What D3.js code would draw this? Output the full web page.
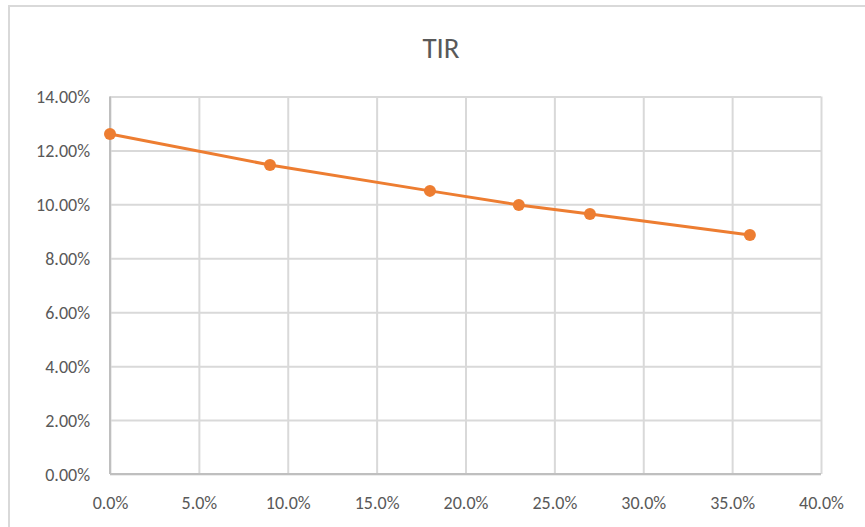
<!DOCTYPE html>
<html><head><meta charset="utf-8">
<script src="https://cdn.jsdelivr.net/npm/d3@7"></script>
<style>body{margin:0;background:#fff;} text{font-family:Carlito, Lato, Calibri, "Liberation Sans", sans-serif;}</style>
</head><body>
<svg id="c" width="865" height="527"></svg>
<script>
const xValues = [0.0, 0.09, 0.18, 0.23, 0.27, 0.36];
const tirValues = [0.1261, 0.1146, 0.1050, 0.0998, 0.0964, 0.0886];
const xTicks = [0, 0.05, 0.10, 0.15, 0.20, 0.25, 0.30, 0.35, 0.40];
const yTicks = [0, 0.02, 0.04, 0.06, 0.08, 0.10, 0.12, 0.14];
const title = "TIR";

const svg = d3.select("#c");
svg.append("rect").attr("x",9).attr("y",6).attr("width",880).attr("height",540)
  .attr("fill","#fff").attr("stroke","#d9d9d9").attr("stroke-width",2);

const x = d3.scaleLinear().domain([0,0.40]).range([110,821]);
const y = d3.scaleLinear().domain([0,0.14]).range([474,96.5]);

svg.append("text").attr("x",441).attr("y",58).attr("text-anchor","middle")
  .attr("font-size",29).attr("fill","#595959").text(title);

const gx = svg.append("g").attr("transform","translate(0,474)")
  .call(d3.axisBottom(x).tickValues(xTicks).tickSize(-(474-96.5)).tickPadding(22).tickFormat(d3.format(".1%")));
const gy = svg.append("g").attr("transform","translate(110,0)")
  .call(d3.axisLeft(y).tickValues(yTicks).tickSize(-(821-110)).tickPadding(20).tickFormat(d3.format(".2%")));
[gx,gy].forEach(g=>{
  g.select(".domain").remove();
  g.selectAll(".tick line").attr("stroke","#d9d9d9").attr("stroke-width",2);
  g.selectAll(".tick text").attr("fill","#595959").attr("font-size",18);
});
gy.selectAll(".tick text").attr("dy","0.35em");
// axis baselines
svg.append("line").attr("x1",110).attr("x2",821).attr("y1",474).attr("y2",474).attr("stroke","#bfbfbf").attr("stroke-width",2);
svg.append("line").attr("x1",110).attr("x2",110).attr("y1",96.5).attr("y2",474).attr("stroke","#bfbfbf").attr("stroke-width",2);

const data = xValues.map((v,i)=>({x:v,y:tirValues[i]}));
svg.append("path").datum(data).attr("fill","none").attr("stroke","#ED7D31").attr("stroke-width",3)
  .attr("stroke-linecap","round")
  .attr("d",d3.line().x(d=>x(d.x)).y(d=>y(d.y)));
svg.selectAll("circle.pt").data(data).enter().append("circle").attr("class","pt")
  .attr("cx",d=>x(d.x)).attr("cy",d=>y(d.y)).attr("r",6).attr("fill","#ED7D31");
</script>
</body></html>
